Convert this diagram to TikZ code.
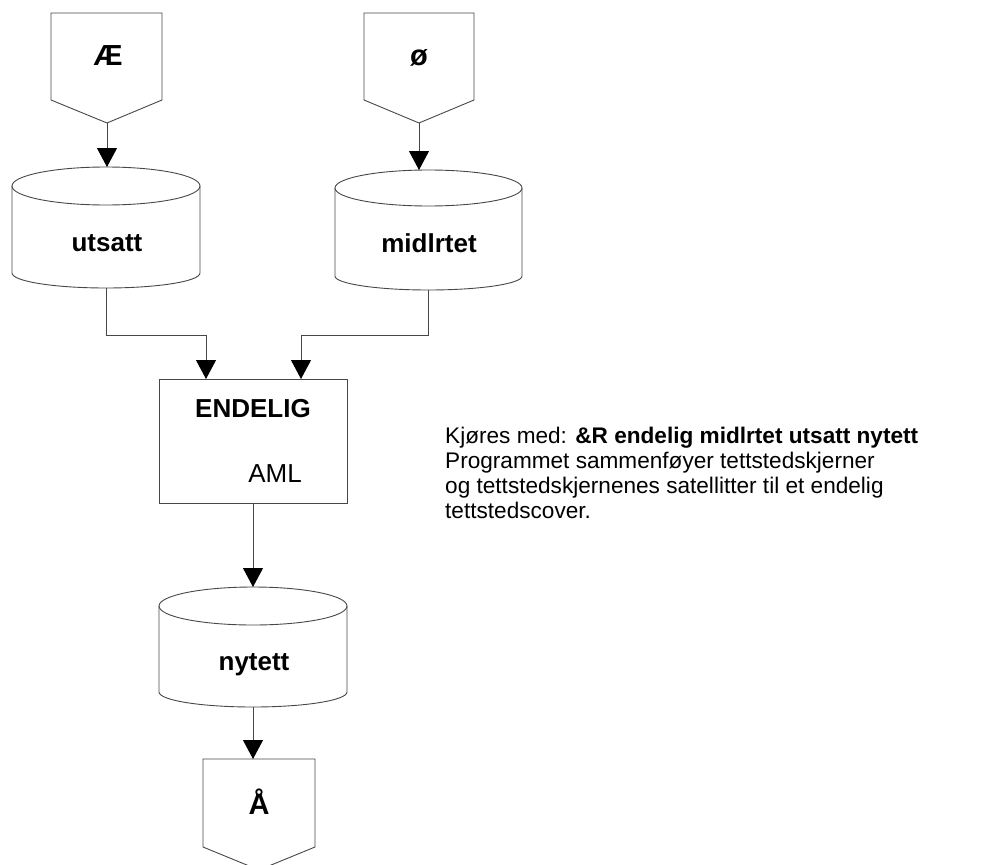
\documentclass[tikz,border=0pt]{standalone}
\usepackage{fontspec}
\setmainfont{Liberation Sans}
\usetikzlibrary{arrows.meta,calc}

% outline of a disk-store cylinder drawn around an invisible node
% #1 node name, #2 top cap y radius, #3 bottom cap y radius, #4 x radius
\newcommand\diskoutline[4]{%
  \draw[edge] ($(#1.north)+(0,-#2)$) ellipse[x radius=#4pt, y radius=#2pt];
  \draw[edge] ($(#1.north west)+(0,-#2)$) -- ($(#1.south west)+(0,#3)$)
    arc[start angle=180, end angle=360, x radius=#4pt, y radius=#3pt]
    -- ($(#1.north east)+(0,-#2)$);}

% outline of an off-page connector (box with a pointed bottom)
\newcommand\pageoutline[2]{%
  \draw[edge] (#1.north west) -- (#1.north east) -- (#1.south east)
    -- (#2) -- (#1.south west) -- cycle;}

\begin{document}
\begin{tikzpicture}[x=1pt,y=1pt,
  edge/.style={draw=black!72, line width=0.9pt},
  arr/.style={edge, -{Triangle[width=20pt,length=19pt,color=black]}},
  holder/.style={rectangle, inner sep=0pt, outer sep=0pt},
  lbl/.style={inner sep=0pt, anchor=base, font=\fontsize{26}{30}\selectfont\bfseries},
  biglbl/.style={lbl, font=\fontsize{29}{32}\selectfont\bfseries},
  plain/.style={inner sep=0pt, anchor=base, font=\fontsize{26}{30}\selectfont},
  note/.style={inner sep=0pt, anchor=base west, align=left,
    font=\fontsize{22.6}{25}\selectfont}]
\useasboundingbox (0,0) rectangle (984,-864);

% off-page connectors
\node[holder, minimum width=111pt, minimum height=87pt] (ae) at (106.5,-56.5) {};
\coordinate (aetip) at (107,-123);
\node[holder, minimum width=110pt, minimum height=87pt] (oe) at (419,-56.5) {};
\coordinate (oetip) at (419,-123);
\node[holder, minimum width=112pt, minimum height=88pt] (aa) at (259,-803) {};
\coordinate (aatip) at (259,-870);
\pageoutline{ae}{aetip}
\pageoutline{oe}{oetip}
\pageoutline{aa}{aatip}
\node[biglbl] (aelbl) at (108,-66) {Æ};
\node[biglbl] (oelbl) at (419,-66) {ø};
\node[biglbl] (aalbl) at (259,-814) {Å};

% data stores
\node[holder, minimum width=188pt, minimum height=121pt] (utsatt) at (106,-227.5) {};
\node[holder, minimum width=187pt, minimum height=120pt] (midl) at (428.5,-230) {};
\node[holder, minimum width=188pt, minimum height=120pt] (nytett) at (253,-647) {};
\diskoutline{utsatt}{19}{15}{94}
\diskoutline{midl}{18}{14}{93.5}
\diskoutline{nytett}{19}{15}{94}
\node[lbl] (utsattlbl) at (107,-251) {utsatt};
\node[lbl] (midllbl) at (429,-252) {midlrtet};
\node[lbl] (nytettlbl) at (254,-670) {nytett};

% program box
\node[holder, draw=black!72, line width=0.9pt, minimum width=188pt, minimum height=124pt] (endelig) at (253,-441) {};
\node[lbl] (endeliglbl) at (253,-417) {ENDELIG};
\node[plain] (aml) at (275,-482) {AML};

% connectors
\coordinate (bendL) at (206,-335);
\coordinate (inL) at (206,-379);
\coordinate (bendR) at (301,-335);
\coordinate (inR) at (301,-379);
\draw[arr] (aetip) -- (aetip |- utsatt.north);
\draw[arr] (oetip) -- (oetip |- midl.north);
\draw[arr] (utsatt.south) |- (bendL) -- (inL);
\draw[arr] (midl.south) |- (bendR) -- (inR);
\draw[arr] (endelig.south) -- (endelig.south |- nytett.north);
\draw[arr] (nytett.south) -- (nytett.south |- aa.north);

% description (anchored at the baseline of its last line)
\node[note] (desc) at (445,-518) {Kjøres med: \textbf{\&R endelig midlrtet utsatt nytett}\\
Programmet sammenføyer tettstedskjerner\\
og tettstedskjernenes satellitter til et endelig\\
tettstedscover.};
\end{tikzpicture}
\end{document}
